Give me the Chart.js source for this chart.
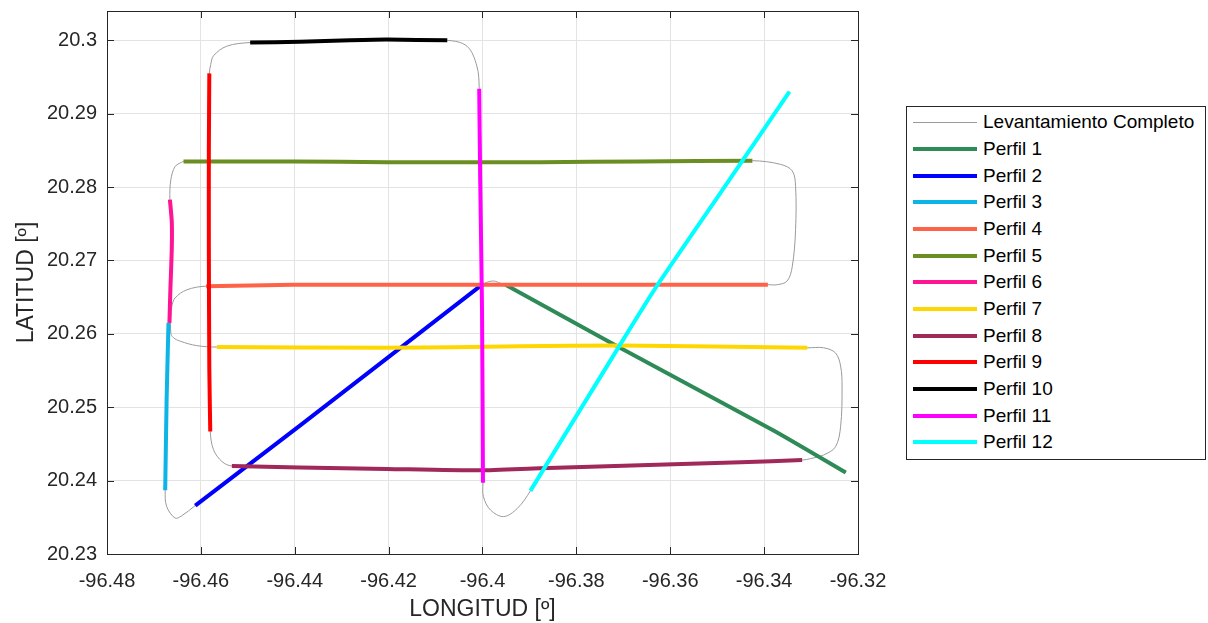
<!DOCTYPE html>
<html>
<head>
<meta charset="utf-8">
<script src="https://cdn.jsdelivr.net/npm/chart.js@4.4.1/dist/chart.umd.min.js"></script>
<style>
  html, body { margin: 0; padding: 0; background: #ffffff; }
  #wrap { position: relative; width: 1208px; height: 623px; }
  #legend {
    position: absolute; left: 906px; top: 106px; width: 298px; height: 350px;
    border: 1px solid #262626; background: #fff; box-sizing: content-box;
    font-family: "Liberation Sans", Arial, sans-serif; font-size: 19px; color: #000;
    padding-top: 2px;
  }
  .row { display: flex; align-items: center; height: 26.67px; }
  .sw { width: 64px; margin-left: 6px; margin-right: 6px; }
</style>
</head>
<body>
<div id="wrap">
  <canvas id="c" width="1208" height="623"></canvas>
  <div id="legend"></div>
</div>
<script>
// ---------------- DATA ----------------
const xTickValues = [-96.48, -96.46, -96.44, -96.42, -96.40, -96.38, -96.36, -96.34, -96.32];
const yTickValues = [20.23, 20.24, 20.25, 20.26, 20.27, 20.28, 20.29, 20.30];

const trackLabel = "Levantamiento Completo";
const perfilNames = ["Perfil 1","Perfil 2","Perfil 3","Perfil 4","Perfil 5","Perfil 6",
                     "Perfil 7","Perfil 8","Perfil 9","Perfil 10","Perfil 11","Perfil 12"];

// profile coordinates (in the order they were surveyed)
const lonP1  = [-96.3226, -96.3379, -96.3713, -96.3951];
const latP1  = [20.2411, 20.2468, 20.2583, 20.2667];
const lonP2  = [-96.4005, -96.4389, -96.4612];
const latP2  = [20.2665, 20.2475, 20.2366];
const lonP3  = [-96.4676, -96.4673, -96.4669];
const latP3  = [20.2387, 20.2510, 20.2615];
const lonP4  = [-96.3392, -96.3806, -96.4005, -96.4197, -96.4403, -96.4589];
const latP4  = [20.2667, 20.2667, 20.2667, 20.2667, 20.2667, 20.2665];
const lonP5  = [-96.4637, -96.4403, -96.4204, -96.3877, -96.3664, -96.3425];
const latP5  = [20.2835, 20.2835, 20.2834, 20.2834, 20.2835, 20.2836];
const lonP6  = [-96.4667, -96.4665, -96.4662, -96.4662, -96.4666];
const latP6  = [20.2615, 20.2660, 20.2715, 20.2753, 20.2783];
const lonP7  = [-96.4566, -96.4204, -96.3919, -96.3706, -96.3308];
const latP7  = [20.2582, 20.2581, 20.2583, 20.2584, 20.2581];
const lonP8  = [-96.3319, -96.3450, -96.3664, -96.3877, -96.4005, -96.4204, -96.4389, -96.4534];
const latP8  = [20.2428, 20.2425, 20.2421, 20.2417, 20.2414, 20.2416, 20.2418, 20.2420];
const lonP9  = [-96.4580, -96.4582, -96.4583, -96.4583, -96.4582];
const latP9  = [20.2467, 20.2551, 20.2715, 20.2851, 20.2955];
const lonP10 = [-96.4495, -96.4389, -96.4282, -96.4204, -96.4075];
const latP10 = [20.2997, 20.2998, 20.3000, 20.3001, 20.3000];
const lonP11 = [-96.4007, -96.4005, -96.4001, -96.3999];
const latP11 = [20.2934, 20.2815, 20.2633, 20.2397];
const lonP12 = [-96.3898, -96.3709, -96.3634, -96.3493, -96.3346];
const latP12 = [20.2386, 20.2583, 20.2660, 20.2792, 20.2930];

// turns of the track between profiles
const lonT1  = [-96.3962, -96.3976, -96.3992];                 // P1 -> P2
const latT1  = [20.2669, 20.2672, 20.2670];
const lonT2  = [-96.4641, -96.4655, -96.4673];                 // P2 -> P3
const latT2  = [20.2352, 20.2349, 20.2365];
const lonT3  = [-96.4664, -96.4655, -96.4641];                 // P6 -> P5
const latT3  = [20.2810, 20.2828, 20.2834];
const lonT4  = [-96.3365, -96.3340, -96.3333, -96.3333, -96.3340, -96.3351, -96.3372]; // P5 -> P4
const latT4  = [20.2831, 20.2822, 20.2801, 20.2742, 20.2692, 20.2672, 20.2667];
const lonT5  = [-96.4630, -96.4655, -96.4662, -96.4664, -96.4664, -96.4659, -96.4644, -96.4609]; // P4 -> P7
const latT5  = [20.2660, 20.2649, 20.2637, 20.2624, 20.2601, 20.2595, 20.2590, 20.2584];
const lonT6  = [-96.3273, -96.3248, -96.3237, -96.3234, -96.3237, -96.3248, -96.3273, -96.3301]; // P7 -> P8
const latT6  = [20.2581, 20.2574, 20.2556, 20.2528, 20.2474, 20.2446, 20.2435, 20.2430];
const lonT7  = [-96.4555, -96.4573];                           // P8 -> P9
const latT7  = [20.2426, 20.2442];
const lonT8  = [-96.4579, -96.4573, -96.4545];                 // P9 -> P10
const latT8  = [20.2967, 20.2979, 20.2992];
const lonT9  = [-96.4033, -96.4012];                           // P10 -> P11
const latT9  = [20.2992, 20.2965];
const lonT10 = [-96.3998, -96.3983, -96.3955, -96.3926];       // P11 -> P12
const latT10 = [20.2378, 20.2360, 20.2351, 20.2362];

// ---------------- STYLE ----------------
const perfilColors = ["#2e8b57","#0000ff","#0db4e6","#ff6347","#6b8e23","#ff1493",
                      "#ffd700","#a0285a","#ff0000","#000000","#ff00ff","#00ffff"];
const trackColor = "#9a9a9a";
const FONT = '"Liberation Sans", Arial, Helvetica, sans-serif';
const AX = "#262626";

// ---------------- BUILD ----------------
const pts = (lon, lat) => lon.map((v, i) => ({ x: v, y: lat[i] }));
const profiles = [
  pts(lonP1, latP1), pts(lonP2, latP2), pts(lonP3, latP3), pts(lonP4, latP4),
  pts(lonP5, latP5), pts(lonP6, latP6), pts(lonP7, latP7), pts(lonP8, latP8),
  pts(lonP9, latP9), pts(lonP10, latP10), pts(lonP11, latP11), pts(lonP12, latP12)
];
const turns = [
  pts(lonT1, latT1), pts(lonT2, latT2), pts(lonT3, latT3), pts(lonT4, latT4),
  pts(lonT5, latT5), pts(lonT6, latT6), pts(lonT7, latT7), pts(lonT8, latT8),
  pts(lonT9, latT9), pts(lonT10, latT10)
];
// survey order: P1 T1 P2 T2 P3 P6 T3 P5 T4 P4 T5 P7 T6 P8 T7 P9 T8 P10 T9 P11 T10 P12
const track = [].concat(
  profiles[0], turns[0], profiles[1], turns[1], profiles[2], profiles[5], turns[2],
  profiles[4], turns[3], profiles[3], turns[4], profiles[6], turns[5], profiles[7],
  turns[6], profiles[8], turns[7], profiles[9], turns[8], profiles[10], turns[9], profiles[11]
);

const datasets = [{
  label: trackLabel, data: track, showLine: true, borderColor: trackColor,
  borderWidth: 1, pointRadius: 0, tension: 0.35, order: 50, fill: false
}];
perfilNames.forEach((name, i) => {
  datasets.push({
    label: name, data: profiles[i], showLine: true, borderColor: perfilColors[i],
    backgroundColor: perfilColors[i], borderWidth: 4, pointRadius: 0, tension: 0.2,
    order: 20 - i, fill: false, borderCapStyle: 'butt'
  });
});

const fmt = v => String(parseFloat(Number(v).toFixed(2)));

const frame = {
  id: 'frame',
  afterDatasetsDraw(chart) {
    const { ctx, chartArea: a, scales: { x, y } } = chart;
    ctx.save();
    ctx.strokeStyle = AX; ctx.lineWidth = 1;
    ctx.beginPath();
    const L = 7;
    xTickValues.forEach(v => {
      const p = Math.round(x.getPixelForValue(v)) + 0.5;
      ctx.moveTo(p, a.bottom); ctx.lineTo(p, a.bottom - L);
      ctx.moveTo(p, a.top); ctx.lineTo(p, a.top + L);
    });
    yTickValues.forEach(v => {
      const p = Math.round(y.getPixelForValue(v)) + 0.5;
      ctx.moveTo(a.left, p); ctx.lineTo(a.left + L, p);
      ctx.moveTo(a.right, p); ctx.lineTo(a.right - L, p);
    });
    ctx.stroke();
    ctx.strokeRect(Math.round(a.left) + 0.5, Math.round(a.top) + 0.5,
                   Math.round(a.right - a.left), Math.round(a.bottom - a.top));
    ctx.restore();
  }
};

const chart = new Chart(document.getElementById('c'), {
  type: 'scatter',
  data: { datasets },
  options: {
    responsive: false, animation: false, devicePixelRatio: 1,
    layout: { padding: { left: 0, right: 350, top: 11, bottom: 0 } },
    plugins: { legend: { display: false }, tooltip: { enabled: false } },
    scales: {
      x: {
        type: 'linear', position: 'bottom', min: -96.48, max: -96.32,
        afterBuildTicks: s => { s.ticks = xTickValues.map(v => ({ value: v })); },
        afterFit: s => { s.height = 69; s.paddingLeft = 0; s.paddingRight = 0; },
        grid: { color: '#e3e3e3', drawTicks: false, lineWidth: 1 },
        border: { display: false },
        ticks: { color: AX, padding: 15, maxRotation: 0, autoSkip: false,
                 font: { family: FONT, size: 20 }, callback: v => fmt(v) },
        title: { display: true, text: 'LONGITUD [º]', color: AX,
                 font: { family: FONT, size: 23 }, padding: { top: 0, bottom: 0 } }
      },
      y: {
        type: 'linear', position: 'left', min: 20.23, max: 20.304,
        afterBuildTicks: s => { s.ticks = yTickValues.map(v => ({ value: v })); },
        afterFit: s => { s.width = 107; s.paddingTop = 0; s.paddingBottom = 0; },
        grid: { color: '#e3e3e3', drawTicks: false, lineWidth: 1 },
        border: { display: false },
        ticks: { color: AX, padding: 10, autoSkip: false,
                 font: { family: FONT, size: 20 }, callback: v => fmt(v) },
        title: { display: true, text: 'LATITUD [º]', color: AX,
                 font: { family: FONT, size: 23 }, padding: { top: 13, bottom: 0 } }
      }
    }
  },
  plugins: [frame]
});

// HTML legend built from the chart datasets
const leg = document.getElementById('legend');
chart.data.datasets.forEach(ds => {
  const row = document.createElement('div'); row.className = 'row';
  const sw = document.createElement('div'); sw.className = 'sw';
  sw.style.height = ds.borderWidth + 'px'; sw.style.background = ds.borderColor;
  const tx = document.createElement('span'); tx.textContent = ds.label;
  row.appendChild(sw); row.appendChild(tx); leg.appendChild(row);
});
</script>
</body>
</html>
